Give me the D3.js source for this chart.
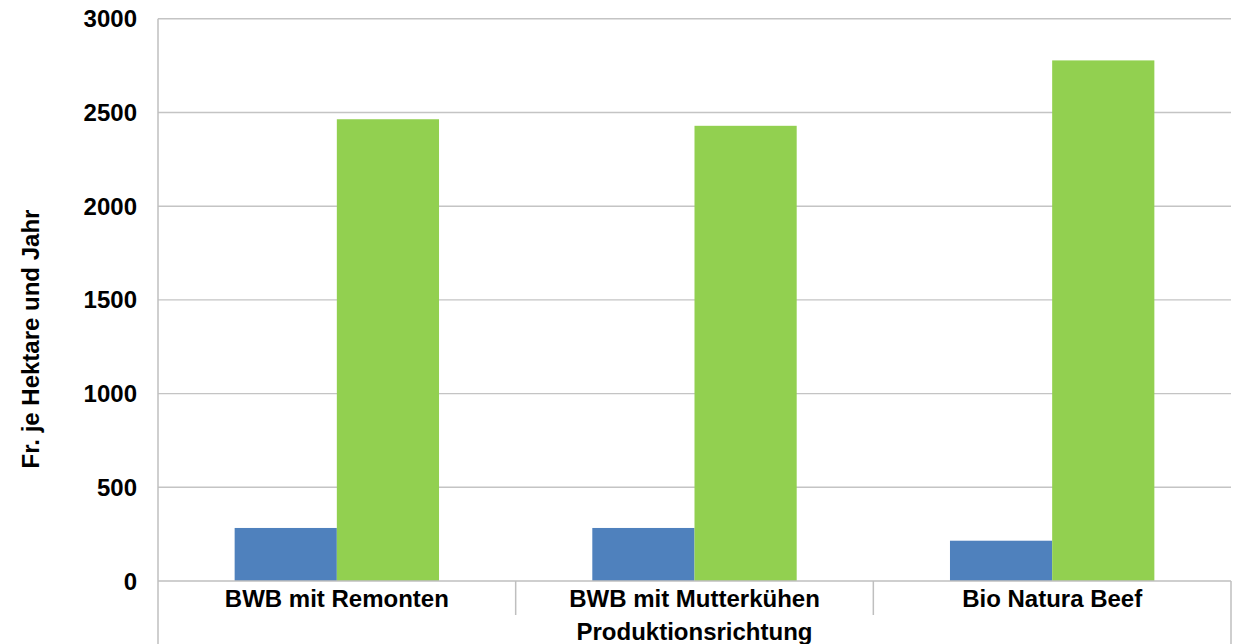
<!DOCTYPE html>
<html><head><meta charset="utf-8">
<script src="https://cdn.jsdelivr.net/npm/d3@7"></script>
<style>body{margin:0;background:#fff;}svg{display:block;font-family:"Liberation Sans",Arial,sans-serif;}</style>
</head><body>
<svg id="c" width="1234" height="644"></svg>
<script>
const categories = ["BWB mit Remonten", "BWB mit Mutterkühen", "Bio Natura Beef"];
const seriesNames = ["Serie 1", "Serie 2"];
const series1 = [283, 283, 215];
const series2 = [2464, 2429, 2778];
const yTicks = [0, 500, 1000, 1500, 2000, 2500, 3000];
const colors = ["#4F81BD", "#92D050"];

const svg = d3.select("#c");
const L = 158, R = 1231, T = 18.8, B = 581;
const FS = 24;
const y = d3.scaleLinear().domain([0, 3000]).range([B, T]);
const x0 = d3.scaleBand().domain(categories).range([L, R]).paddingInner(0).paddingOuter(0);
const bw = x0.bandwidth() / 3.5;
const x1 = d3.scaleBand().domain(seriesNames).range([0, 2 * bw]);

// gridlines
svg.append("g").selectAll("line").data(yTicks.filter(d => d > 0)).join("line")
  .attr("x1", L).attr("x2", R).attr("y1", d => y(d)).attr("y2", d => y(d))
  .attr("stroke", "#c4c4c4").attr("stroke-width", 1.4);

// bars
const data = categories.map((c, i) => ({c, v: [series1[i], series2[i]]}));
const g = svg.append("g");
data.forEach(d => {
  d.v.forEach((v, j) => {
    g.append("rect")
      .attr("x", x0(d.c) + (x0.bandwidth() - 2 * bw) / 2 + x1(seriesNames[j]))
      .attr("y", y(v)).attr("width", x1.bandwidth()).attr("height", B - y(v))
      .attr("fill", colors[j]);
  });
});

// axes lines
const axc = "#bfbfbf";
svg.append("line").attr("x1", L).attr("x2", L).attr("y1", T).attr("y2", 644).attr("stroke", axc).attr("stroke-width", 1.5);
svg.append("line").attr("x1", L).attr("x2", R).attr("y1", B).attr("y2", B).attr("stroke", axc).attr("stroke-width", 1.5);
svg.append("line").attr("x1", R).attr("x2", R).attr("y1", B).attr("y2", 644).attr("stroke", axc).attr("stroke-width", 1.5);
svg.append("g").selectAll("line").data(categories.slice(1)).join("line")
  .attr("x1", d => x0(d)).attr("x2", d => x0(d)).attr("y1", B).attr("y2", 615)
  .attr("stroke", axc).attr("stroke-width", 1.5);

// y tick labels
svg.append("g").selectAll("text").data(yTicks).join("text")
  .attr("x", 137).attr("y", d => y(d) + 8.5).attr("text-anchor", "end")
  .attr("font-size", FS).attr("font-weight", "bold").attr("fill", "#000")
  .text(d => d);

// category labels
svg.append("g").selectAll("text").data(categories).join("text")
  .attr("x", d => x0(d) + x0.bandwidth() / 2).attr("y", 607).attr("text-anchor", "middle")
  .attr("font-size", FS).attr("font-weight", "bold").attr("fill", "#000")
  .text(d => d);

svg.append("text").attr("x", (L + R) / 2).attr("y", 640).attr("text-anchor", "middle")
  .attr("font-size", FS).attr("font-weight", "bold").text("Produktionsrichtung");

svg.append("text").attr("transform", `translate(39,${339}) rotate(-90)`).attr("text-anchor", "middle")
  .attr("font-size", FS).attr("font-weight", "bold").text("Fr. je Hektare und Jahr");
</script>
</body></html>
